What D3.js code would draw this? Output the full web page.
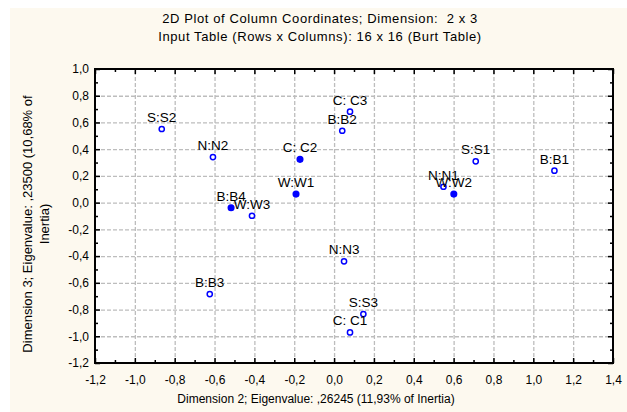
<!DOCTYPE html>
<html>
<head>
<meta charset="utf-8">
<script src="https://cdn.jsdelivr.net/npm/d3@7"></script>
<style>
  body { margin: 0; background: #fff; }
  svg text { font-family: "Liberation Sans", Arial, sans-serif; fill: #000; }
</style>
</head>
<body>
<svg id="chart"></svg>
<script>
// Column coordinates (Dimension 2 on x, Dimension 3 on y)
const pointLabels = ["S:S2", "N:N2", "C: C2", "W:W1", "B:B4", "W:W3", "C: C3", "B:B2",
                     "S:S1", "B:B1", "N:N1", "W:W2", "N:N3", "B:B3", "S:S3", "C: C1"];
const dim2Values = [-0.865, -0.608, -0.171, -0.191, -0.517, -0.412, 0.080, 0.041,
                     0.711, 1.106, 0.549, 0.601, 0.050, -0.624, 0.147, 0.080];
const dim3Values = [0.551, 0.341, 0.324, 0.064, -0.038, -0.098, 0.681, 0.538,
                     0.309, 0.239, 0.119, 0.064, -0.439, -0.684, -0.834, -0.971];
const markerKind = ["open", "open", "filled", "filled", "filled", "open", "open", "open",
                    "open", "open", "open", "filled", "open", "open", "open", "open"];

const xTickValues = [-1.2, -1.0, -0.8, -0.6, -0.4, -0.2, 0.0, 0.2, 0.4, 0.6, 0.8, 1.0, 1.2, 1.4];
const yTickValues = [-1.2, -1.0, -0.8, -0.6, -0.4, -0.2, 0.0, 0.2, 0.4, 0.6, 0.8, 1.0];

const titleLines = ["2D Plot of Column Coordinates; Dimension:  2 x 3",
                    "Input Table (Rows x Columns): 16 x 16 (Burt Table)"];
const xTitle = "Dimension 2; Eigenvalue: ,26245 (11,93% of Inertia)";
const yTitleLines = ["Dimension 3; Eigenvalue: ,23500 (10,68% of", "Inertia)"];

// Dimensions
const W = 627, H = 412;
const margin = { top: 69, right: 14, bottom: 49, left: 95 },
      width = W - margin.left - margin.right,
      height = H - margin.top - margin.bottom;

const svg = d3.select("#chart").attr("width", W).attr("height", H);

// cream panel behind everything
svg.append("rect").attr("x", 10).attr("y", 8)
  .attr("width", W - 10).attr("height", H - 8).attr("fill", "#fdf9ef");

const x = d3.scaleLinear().domain([-1.2, 1.4]).range([0, width]);
const y = d3.scaleLinear().domain([-1.2, 1.0]).range([height, 0]);

const fmt = d => d3.format(".1f")(d).replace(".", ",").replace("\u2212", "-");

// minor ticks every 0.1
const xMinor = d3.range(-12, 15).map(d => d / 10).filter(d => Math.abs(Math.round(d * 10) % 2) === 1);
const yMinor = d3.range(-12, 11).map(d => d / 10).filter(d => Math.abs(Math.round(d * 10) % 2) === 1);

const g = svg.append("g").attr("transform", `translate(${margin.left},${margin.top})`);

g.append("rect").attr("width", width).attr("height", height).attr("fill", "#fff");

// grid
const gridX = xTickValues.slice(1, -1), gridY = yTickValues.slice(1, -1);
g.append("g").attr("class", "grid")
  .attr("transform", `translate(0,${height})`)
  .call(d3.axisBottom(x).tickValues(gridX).tickSize(-height).tickFormat(""));
g.append("g").attr("class", "grid")
  .call(d3.axisLeft(y).tickValues(gridY).tickSize(-width).tickFormat(""));
g.selectAll(".grid .domain").remove();
g.selectAll(".grid line")
  .attr("stroke", "#bdbdbd").attr("stroke-width", 1.3).attr("stroke-dasharray", "4,2");

// axes with inward ticks
const axisFont = g => g.selectAll("text").style("font-size", "12px");

g.append("g").attr("transform", `translate(0,${height})`)
  .call(d3.axisBottom(x).tickValues(xTickValues).tickSize(-5).tickPadding(12).tickFormat(fmt))
  .call(axisFont);
g.append("g").attr("transform", `translate(0,${height})`)
  .call(d3.axisBottom(x).tickValues(xMinor).tickSize(-3).tickFormat(""));
g.append("g")
  .call(d3.axisTop(x).tickValues(xTickValues).tickSize(-5).tickFormat(""));
g.append("g")
  .call(d3.axisTop(x).tickValues(xMinor).tickSize(-3).tickFormat(""));

g.append("g")
  .call(d3.axisLeft(y).tickValues(yTickValues).tickSize(-5).tickPadding(6).tickFormat(fmt))
  .call(axisFont);
g.append("g")
  .call(d3.axisLeft(y).tickValues(yMinor).tickSize(-3).tickFormat(""));
g.append("g").attr("transform", `translate(${width},0)`)
  .call(d3.axisRight(y).tickValues(yTickValues).tickSize(-5).tickFormat(""));
g.append("g").attr("transform", `translate(${width},0)`)
  .call(d3.axisRight(y).tickValues(yMinor).tickSize(-3).tickFormat(""));

g.selectAll(".domain").remove();
g.selectAll(".tick line").filter(function() { return !this.closest(".grid"); })
  .attr("stroke", "#000").attr("stroke-width", 1.5);

// frame
g.append("rect").attr("width", width).attr("height", height)
  .attr("fill", "none").attr("stroke", "#000").attr("stroke-width", 2);

// points
const pts = pointLabels.map((label, i) => ({ label, dx: dim2Values[i], dy: dim3Values[i], kind: markerKind[i] }));

g.selectAll("circle.pt").data(pts).enter().append("circle")
  .attr("class", "pt")
  .attr("cx", d => x(d.dx))
  .attr("cy", d => y(d.dy))
  .attr("r", d => d.kind === "filled" ? 2.8 : 2.6)
  .attr("fill", d => d.kind === "filled" ? "#0000ff" : "#fff")
  .attr("stroke", "#0000ff")
  .attr("stroke-width", 1.5);

g.selectAll("text.lbl").data(pts).enter().append("text")
  .attr("class", "lbl")
  .attr("x", d => x(d.dx))
  .attr("y", d => y(d.dy) - 7)
  .attr("text-anchor", "middle")
  .style("font-size", "13.5px")
  .text(d => d.label);

// titles
svg.selectAll("text.title").data(titleLines).enter().append("text")
  .attr("class", "title")
  .attr("x", 320)
  .attr("y", (d, i) => 23 + i * 18)
  .attr("text-anchor", "middle")
  .style("font-size", "13px")
  .style("letter-spacing", "0.6px")
  .style("white-space", "pre")
  .text(d => d);

svg.append("text")
  .attr("x", 316).attr("y", 403)
  .attr("text-anchor", "middle")
  .style("font-size", "12px")
  .text(xTitle);

svg.selectAll("text.ytitle").data(yTitleLines).enter().append("text")
  .attr("class", "ytitle")
  .attr("transform", (d, i) => `translate(${31.5 + i * 17},224) rotate(-90)`)
  .attr("text-anchor", "middle")
  .style("font-size", "13px")
  .text(d => d);
</script>
</body>
</html>
